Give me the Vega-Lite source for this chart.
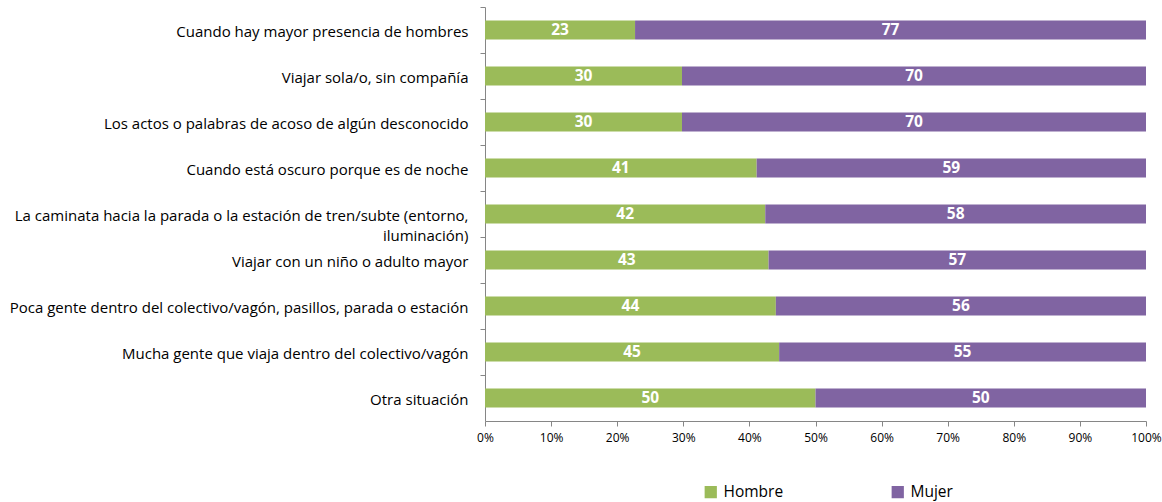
{
  "$schema": "https://vega.github.io/schema/vega-lite/v6.json",
  "autosize": {"type": "none"},
  "width": 661,
  "height": 414,
  "padding": {"left": 485, "top": 7, "right": 16, "bottom": 81},
  "background": "white",
  "config": {"view": {"stroke": null}, "font": "Open Sans"},
  "data": {
    "values": [
      {"situacion": "Cuando hay mayor presencia de hombres", "orden": 1, "sexo": "Hombre", "so": 1, "valor": 22.7, "etiqueta": "23"},
      {"situacion": "Cuando hay mayor presencia de hombres", "orden": 1, "sexo": "Mujer", "so": 2, "valor": 77.3, "etiqueta": "77"},
      {"situacion": "Viajar sola/o, sin compañía", "orden": 2, "sexo": "Hombre", "so": 1, "valor": 29.8, "etiqueta": "30"},
      {"situacion": "Viajar sola/o, sin compañía", "orden": 2, "sexo": "Mujer", "so": 2, "valor": 70.2, "etiqueta": "70"},
      {"situacion": "Los actos o palabras de acoso de algún desconocido", "orden": 3, "sexo": "Hombre", "so": 1, "valor": 29.8, "etiqueta": "30"},
      {"situacion": "Los actos o palabras de acoso de algún desconocido", "orden": 3, "sexo": "Mujer", "so": 2, "valor": 70.2, "etiqueta": "70"},
      {"situacion": "Cuando está oscuro porque es de noche", "orden": 4, "sexo": "Hombre", "so": 1, "valor": 41.1, "etiqueta": "41"},
      {"situacion": "Cuando está oscuro porque es de noche", "orden": 4, "sexo": "Mujer", "so": 2, "valor": 58.9, "etiqueta": "59"},
      {"situacion": "La caminata hacia la parada o la estación de tren/subte (entorno,|iluminación)", "orden": 5, "sexo": "Hombre", "so": 1, "valor": 42.4, "etiqueta": "42"},
      {"situacion": "La caminata hacia la parada o la estación de tren/subte (entorno,|iluminación)", "orden": 5, "sexo": "Mujer", "so": 2, "valor": 57.6, "etiqueta": "58"},
      {"situacion": "Viajar con un niño o adulto mayor", "orden": 6, "sexo": "Hombre", "so": 1, "valor": 42.9, "etiqueta": "43"},
      {"situacion": "Viajar con un niño o adulto mayor", "orden": 6, "sexo": "Mujer", "so": 2, "valor": 57.1, "etiqueta": "57"},
      {"situacion": "Poca gente dentro del colectivo/vagón, pasillos, parada o estación", "orden": 7, "sexo": "Hombre", "so": 1, "valor": 44.0, "etiqueta": "44"},
      {"situacion": "Poca gente dentro del colectivo/vagón, pasillos, parada o estación", "orden": 7, "sexo": "Mujer", "so": 2, "valor": 56.0, "etiqueta": "56"},
      {"situacion": "Mucha gente que viaja dentro del colectivo/vagón", "orden": 8, "sexo": "Hombre", "so": 1, "valor": 44.5, "etiqueta": "45"},
      {"situacion": "Mucha gente que viaja dentro del colectivo/vagón", "orden": 8, "sexo": "Mujer", "so": 2, "valor": 55.5, "etiqueta": "55"},
      {"situacion": "Otra situación", "orden": 9, "sexo": "Hombre", "so": 1, "valor": 50, "etiqueta": "50"},
      {"situacion": "Otra situación", "orden": 9, "sexo": "Mujer", "so": 2, "valor": 50, "etiqueta": "50"}
    ]
  },
  "encoding": {
    "y": {
      "field": "situacion",
      "type": "nominal",
      "sort": {"field": "orden"},
      "scale": {"paddingInner": 0.59, "paddingOuter": 0.295},
      "axis": {
        "title": null,
        "labelExpr": "split(datum.label, '|')",
        "labelFont": "Open Sans",
        "labelFontSize": 15,
        "labelColor": "#000000",
        "labelLimit": 500,
        "labelPadding": 12,
        "labelOverlap": false,
        "tickOffset": -23,
        "labelOffset": 24,
        "tickSize": 5,
        "tickColor": "#868686",
        "domainColor": "#868686",
        "labelLineHeight": 20
      }
    },
    "x": {
      "field": "valor",
      "type": "quantitative",
      "stack": "zero",
      "scale": {"domain": [0, 100], "nice": false},
      "axis": {
        "title": null,
        "values": [0, 10, 20, 30, 40, 50, 60, 70, 80, 90, 100],
        "labelExpr": "datum.value + '%'",
        "grid": false,
        "labelFont": "Open Sans",
        "labelFontSize": 12,
        "labelColor": "#000000",
        "labelPadding": 6,
        "tickSize": 5,
        "tickColor": "#868686",
        "domainColor": "#868686",
        "labelFlush": false,
        "labelOverlap": false
      }
    },
    "order": {"field": "so", "type": "quantitative"}
  },
  "layer": [
    {
      "mark": {"type": "bar"},
      "encoding": {
        "color": {
          "field": "sexo",
          "type": "nominal",
          "scale": {"domain": ["Hombre", "Mujer"], "range": ["#9BBB59", "#8064A2"]},
          "legend": {
            "title": null,
            "orient": "none",
            "direction": "horizontal",
            "legendX": 218,
            "legendY": 477,
            "symbolType": "square",
            "symbolSize": 150,
            "symbolStrokeWidth": 0,
            "symbolOffset": 0,
            "labelFont": "Open Sans",
            "labelFontSize": 15.5,
            "labelColor": "#000000",
            "labelOffset": 5,
            "columnPadding": 106
          }
        }
      }
    },
    {
      "mark": {"type": "text", "color": "white", "fontWeight": "bold", "fontSize": 15.5, "font": "Open Sans", "baseline": "middle", "align": "center"},
      "encoding": {
        "x": {"field": "valor", "type": "quantitative", "stack": "zero", "bandPosition": 0.5},
        "text": {"field": "etiqueta"}
      }
    }
  ]
}
